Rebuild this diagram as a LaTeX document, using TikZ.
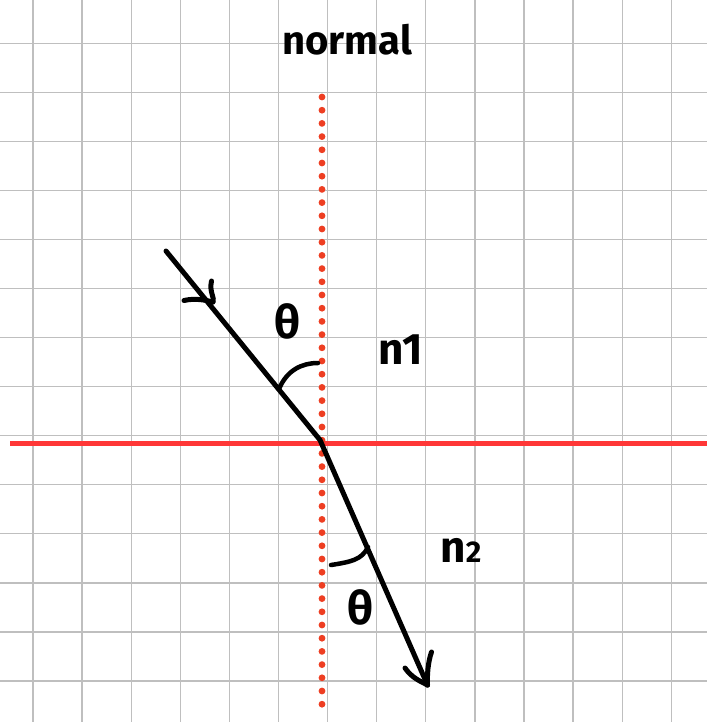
\documentclass[tikz,border=0pt]{standalone}
\usepackage{fontspec}
\setmainfont{Fira Sans}
\begin{document}
\begin{tikzpicture}[x=1pt,y=-1pt,
  gridline/.style={draw=black!25,line width=1.3pt},
  surface/.style={draw={rgb,255:red,255;green,55;blue,55},line width=5pt},
  normalline/.style={draw={rgb,255:red,238;green,62;blue,34},line width=6.8pt,line cap=round,dash pattern=on 0pt off 13.2pt},
  ray/.style={draw=black,line width=5pt,line cap=round,line join=round},
  anglearc/.style={draw=black,line width=4.5pt,line cap=round},
  lbl/.style={inner sep=0pt,text=black}]
\useasboundingbox (0,0) rectangle (707,722);
\fill[white] (0,0) rectangle (707,722);
% grid
\foreach \k in {0,...,13}{
  \draw[gridline] ({33+49.1*\k},0) -- ({33+49.1*\k},722);
  \draw[gridline] (0,{43.3+49.05*\k}) -- (707,{43.3+49.05*\k});
}
% coordinates
\coordinate (S) at (166,251);
\coordinate (O) at (320,440);
\coordinate (T) at (427.5,685);
\coordinate (N1) at (322,97);
\coordinate (N2) at (322,716);
\coordinate (L) at (10,443);
\coordinate (R) at (707,443);
% surface and normal
\draw[surface] (L) -- (R);
\draw[normalline] (N1) -- (N2);
% rays
\draw[ray] (S) -- (O) -- (T);
% arrowheads
\coordinate (h1) at (213,302);
\coordinate (h1a) at (211.5,281);
\coordinate (h1b) at (184,300.5);
\draw[ray] (h1a) .. controls (209,292) and (215,298) .. (h1);
\draw[ray] (h1b) .. controls (195,298) and (205,300) .. (h1);
\coordinate (h2a) at (431.5,652);
\coordinate (h2b) at (405,668);
\draw[ray] (h2a) .. controls (428,662) and (427,675) .. (T);
\draw[ray] (h2b) .. controls (412,678) and (420,681) .. (T);
% angle arcs
\coordinate (a1s) at (279,389);
\coordinate (a1e) at (318,363);
\draw[anglearc] (a1s) .. controls (287,370) and (302,363) .. (a1e);
\coordinate (a2s) at (331,565);
\coordinate (a2e) at (368,547);
\draw[anglearc] (a2s) .. controls (350,562) and (362,560) .. (a2e);
% labels
\node[lbl,font=\bfseries\fontsize{40}{40}\selectfont] (normal) at (347,40) {normal};
\node[lbl,font=\bfseries\fontsize{46}{46}\selectfont] (th1) at (287,321) {θ};
\node[lbl,font=\bfseries\fontsize{44}{44}\selectfont] (n1) at (401,350) {n1};
\node[lbl,font=\bfseries\fontsize{44}{44}\selectfont] (n2) at (461,550) {n{\fontsize{30}{30}\selectfont 2}};
\node[lbl,font=\bfseries\fontsize{46}{46}\selectfont] (th2) at (360,607) {θ};
\end{tikzpicture}
\end{document}
